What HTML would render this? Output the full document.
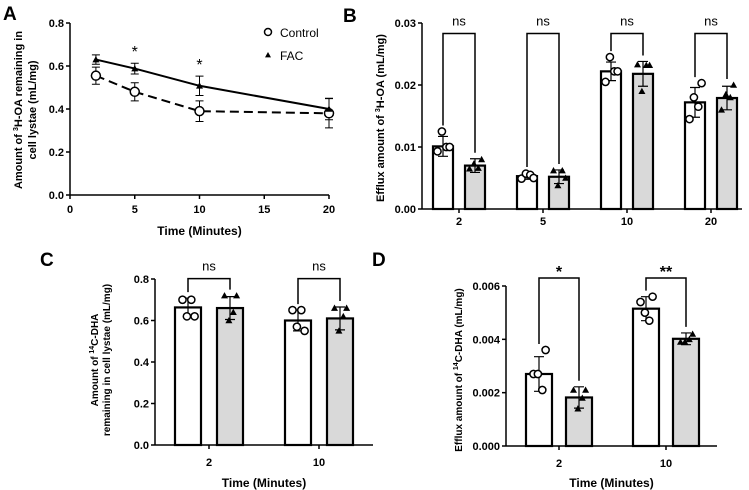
<!DOCTYPE html>
<html><head><meta charset="utf-8"><style>
body{margin:0;background:#fff}
svg{display:block;font-family:"Liberation Sans",Arial,sans-serif;font-weight:bold}
</style></head><body>
<svg id="fig" width="749" height="490" viewBox="0 0 749 490">
<text x="3" y="20" font-size="19">A</text>
<text x="343" y="22" font-size="19">B</text>
<text x="40" y="266" font-size="19">C</text>
<text x="372" y="266" font-size="19">D</text>
</svg>
<script>
// Panel A data
const aTimes=[2,5,10,20];
const aControl=[0.555,0.48,0.39,0.38];
const aControlErr=[0.04,0.042,0.048,0.068];
const aFAC=[0.63,0.588,0.508,0.40];
const aFACErr=[0.022,0.025,0.045,0.05];
const aXTicks=[0,5,10,15,20];
const aYTicks=[0,0.2,0.4,0.6,0.8];
const aStars=[5,10];
// Panel B data
const bCats=["2","5","10","20"];
const bControl=[0.0101,0.0053,0.0222,0.0172];
const bFAC=[0.0070,0.0052,0.0218,0.0179];
const bControlErr=[0.0016,0.0005,0.0015,0.0024];
const bFACErr=[0.0011,0.0011,0.0020,0.0019];
const bControlPts=[[0.0093,0.0125,0.0100,0.0100],[0.0049,0.0057,0.0055,0.0050],[0.0205,0.0245,0.0222,0.0222],[0.0145,0.0180,0.0165,0.0203]];
const bFACPts=[[0.0065,0.0073,0.0066,0.0080],[0.0062,0.0038,0.0062,0.0050],[0.0233,0.0190,0.0232,0.0232],[0.0160,0.0185,0.0180,0.0200]];
const bYTicks=[0,0.01,0.02,0.03];
const bSig=["ns","ns","ns","ns"];
// Panel C data
const cCats=["2","10"];
const cControl=[0.663,0.600];
const cFAC=[0.660,0.610];
const cControlErr=[0.045,0.05];
const cFACErr=[0.055,0.055];
const cControlPts=[[0.70,0.62,0.70,0.62],[0.65,0.57,0.65,0.55]];
const cFACPts=[[0.72,0.60,0.64,0.72],[0.66,0.55,0.62,0.66]];
const cYTicks=[0,0.2,0.4,0.6,0.8];
const cSig=["ns","ns"];
// Panel D data
const dCats=["2","10"];
const dControl=[0.0027,0.00515];
const dFAC=[0.00182,0.00402];
const dControlErr=[0.00065,0.00045];
const dFACErr=[0.0004,0.00022];
const dControlPts=[[0.0027,0.0027,0.0021,0.0036],[0.0054,0.0050,0.0047,0.0056]];
const dFACPts=[[0.0021,0.0014,0.0018,0.0021],[0.0039,0.0039,0.0040,0.0042]];
const dYTicks=[0,0.002,0.004,0.006];
const dSig=["*","**"];

const NS="http://www.w3.org/2000/svg";
const svg=document.getElementById('fig');
function mk(tag,attrs,parent){const e=document.createElementNS(NS,tag);for(const k in attrs)e.setAttribute(k,attrs[k]);(parent||svg).appendChild(e);return e;}
function txt(x,y,s,size,anchor,parent){const t=mk('text',{x:x,y:y,'font-size':size,'text-anchor':anchor||'middle'},parent);t.textContent=s;return t;}
function tri(x,y,r,parent){return mk('polygon',{points:`${x},${y-r} ${x-r},${y+r*0.8} ${x+r},${y+r*0.8}`,fill:'#000'},parent);}

// ---- Panel A ----
(function(){
const g=mk('g',{});


const x0=70,x1=329,y0=195,y1=23;
const X=v=>x0+(v-0)/(20-0)*(x1-x0);
const Y=v=>y0-(v-0)/(0.8)*(y0-y1);
mk('line',{x1:x0,y1:y0,x2:x0,y2:y1,stroke:'#000','stroke-width':1.5},g);
mk('line',{x1:x0,y1:y0,x2:x1,y2:y0,stroke:'#000','stroke-width':1.5},g);
aYTicks.forEach(v=>{mk('line',{x1:x0-4,y1:Y(v),x2:x0,y2:Y(v),stroke:'#000','stroke-width':1.5},g);const t=txt(x0-6,Y(v)+4,v.toFixed(1),11,'end',g);});
aXTicks.forEach(v=>{mk('line',{x1:X(v),y1:y0,x2:X(v),y2:y0+4,stroke:'#000','stroke-width':1.5},g);const t=txt(X(v),y0+18,String(v),11,'middle',g);});
const xt=txt((x0+x1)/2,235,'Time (Minutes)',12,'middle',g);


const yt=mk('text',{transform:'translate(22,110) rotate(-90)','font-size':11,'text-anchor':'middle'},g);
yt.innerHTML='Amount of <tspan dy="-4" font-size="7">3</tspan><tspan dy="4">H-OA remaining in</tspan>';


const yt2=txt(0,0,'cell lystae (mL/mg)',11,'middle',g);yt2.setAttribute('transform','translate(36,110) rotate(-90)');
mk('polyline',{points:aTimes.map((t,i)=>X(t)+','+Y(aFAC[i])).join(' '),fill:'none',stroke:'#000','stroke-width':2},g);
mk('polyline',{points:aTimes.map((t,i)=>X(t)+','+Y(aControl[i])).join(' '),fill:'none',stroke:'#000','stroke-width':2,'stroke-dasharray':'9,5'},g);
aTimes.forEach((t,i)=>{
 [[aFAC,aFACErr],[aControl,aControlErr]].forEach(([m,e])=>{
  const x=X(t);mk('path',{d:`M${x},${Y(m[i]-e[i])}V${Y(m[i]+e[i])}M${x-4},${Y(m[i]-e[i])}h8M${x-4},${Y(m[i]+e[i])}h8`,stroke:'#000','stroke-width':1,fill:'none'},g);
 });
 const c=mk('circle',{cx:X(t),cy:Y(aControl[i]),r:4.5,fill:'#fff',stroke:'#000','stroke-width':1.5},g);
 
 
 const p=tri(X(t),Y(aFAC[i]),3.5,g);
 
 
});
aStars.forEach(t=>{const i=aTimes.indexOf(t);const s=txt(X(t),Y(aFAC[i]+aFACErr[i])-6,'*',16,'middle',g);s.setAttribute('font-weight','normal');});
const lg=mk('g',{},g);


mk('circle',{cx:268,cy:32,r:3.5,fill:'#fff',stroke:'#000','stroke-width':1.5},lg);
const l1=txt(280,37,'Control',12,'start',lg);l1.setAttribute('font-weight','normal');
tri(268,55,3,lg);
const l2=txt(280,60,'FAC',12,'start',lg);l2.setAttribute('font-weight','normal');
})();

// ---- Bar panel generic ----
function barPanel(o){
const g=mk('g',{});


const Y=v=>o.y0-v/o.ymax*(o.y0-o.y1);
mk('line',{x1:o.x0,y1:o.y0,x2:o.x0,y2:o.y1,stroke:'#000','stroke-width':1.5},g);
mk('line',{x1:o.x0,y1:o.y0,x2:o.xEnd,y2:o.y0,stroke:'#000','stroke-width':1.5},g);
o.yTicks.forEach(v=>{mk('line',{x1:o.x0-4,y1:Y(v),x2:o.x0,y2:Y(v),stroke:'#000','stroke-width':1.5},g);const t=txt(o.x0-6,Y(v)+4,v.toFixed(o.dec),o.fs,'end',g);});
o.cats.forEach((c,i)=>{
 const cx=o.c0+i*o.step;
 mk('line',{x1:cx,y1:o.y0,x2:cx,y2:o.y0+4,stroke:'#000','stroke-width':1.5},g);
 const t=txt(cx,o.y0+o.labDy,c,o.fs,'middle',g);
 
 
 const xs=[cx-o.off,cx+o.off];
 const series=[[o.ctrl,o.ctrlErr,o.ctrlPts,'#fff'],[o.fac,o.facErr,o.facPts,'#d9d9d9']];
 let tops=[];
 series.forEach(([m,e,p,fill],k)=>{
  const x=xs[k];
  const b=mk('rect',{x:x-o.bw/2,y:Y(m[i]),width:o.bw,height:o.y0-Y(m[i]),fill:fill,stroke:'#000','stroke-width':2.2},g);
  
  
  mk('path',{d:`M${x},${Y(m[i]-e[i])}V${Y(m[i]+e[i])}M${x-5},${Y(m[i]-e[i])}h10M${x-5},${Y(m[i]+e[i])}h10`,stroke:'#000','stroke-width':1.2,fill:'none'},g);
  const jit=[-5,-1,3,6];
  p[i].forEach((v,j)=>{
   let el;
   if(k==0)el=mk('circle',{cx:x+jit[j]*1.1,cy:Y(v),r:3.6,fill:'#fff',stroke:'#000','stroke-width':1.5},g);
   else el=tri(x+jit[j]*1.1,Y(v),3.5,g);
   
   
  });
  tops.push(Math.max(m[i]+e[i],...p[i]));
 });
 const bt=Y(o.brTop[i]);
 const br=mk('path',{d:`M${xs[0]},${Y(tops[0])-6}V${bt}H${xs[1]}V${Y(tops[1])-6}`,stroke:'#000','stroke-width':1.5,fill:'none'},g);
 
 
 const s=txt(cx,bt-o.sigDy,o.sig[i],o.sigFs,'middle',g);
 s.setAttribute('font-weight',o.sig[i]=='ns'?'normal':'bold');
 
 
});
if(o.title){const t=txt((o.x0+o.xEnd)/2,o.titleY,o.title,12,'middle',g);}
const yl=mk('text',{transform:`translate(${o.ylx},${o.yly}) rotate(-90)`,'font-size':o.ylfs,'text-anchor':'middle'},g);
yl.innerHTML=o.ylab;


if(o.ylab2){const y2=mk('text',{transform:`translate(${o.ylx+12},${o.yly}) rotate(-90)`,'font-size':o.ylfs,'text-anchor':'middle'},g);y2.textContent=o.ylab2;}
}

barPanel({name:'panel-b-bar-chart',x0:422,xEnd:742,y0:209,y1:23,ymax:0.03,yTicks:bYTicks,dec:2,fs:11,cats:bCats,c0:459,step:84,off:16,bw:20,
 ctrl:bControl,ctrlErr:bControlErr,ctrlPts:bControlPts,fac:bFAC,facErr:bFACErr,facPts:bFACPts,brTop:[0.0283,0.0283,0.0283,0.0283],sig:bSig,sigDy:8,sigFs:13,labDy:16,
 ylx:384,yly:118,ylfs:11,ylab:'Efflux amount of <tspan dy="-4" font-size="7">3</tspan><tspan dy="4">H-OA (mL/mg)</tspan>'});
barPanel({name:'panel-c-bar-chart',x0:155,xEnd:373,y0:445,y1:279,ymax:0.8,yTicks:cYTicks,dec:1,fs:11,cats:cCats,c0:209,step:110,off:21,bw:26,
 ctrl:cControl,ctrlErr:cControlErr,ctrlPts:cControlPts,fac:cFAC,facErr:cFACErr,facPts:cFACPts,brTop:[0.802,0.802],sig:cSig,sigDy:8,sigFs:13,labDy:21,
 title:'Time (Minutes)',titleY:487,ylx:98,yly:360,ylfs:10,ylab:'Amount of <tspan dy="-4" font-size="7">14</tspan><tspan dy="4">C-DHA</tspan>',ylab2:'remaining in cell lystae (mL/mg)'});
barPanel({name:'panel-d-bar-chart',x0:506,xEnd:717,y0:446,y1:286,ymax:0.006,yTicks:dYTicks,dec:3,fs:11,cats:dCats,c0:559,step:107,off:20,bw:26,
 ctrl:dControl,ctrlErr:dControlErr,ctrlPts:dControlPts,fac:dFAC,facErr:dFACErr,facPts:dFACPts,brTop:[0.0063,0.0063],sig:dSig,sigDy:1,sigFs:16,labDy:21,
 title:'Time (Minutes)',titleY:487,ylx:462,yly:370,ylfs:10,ylab:'Efflux amount of <tspan dy="-4" font-size="7">14</tspan><tspan dy="4">C-DHA  (mL/mg)</tspan>'});
</script>
</body></html>
